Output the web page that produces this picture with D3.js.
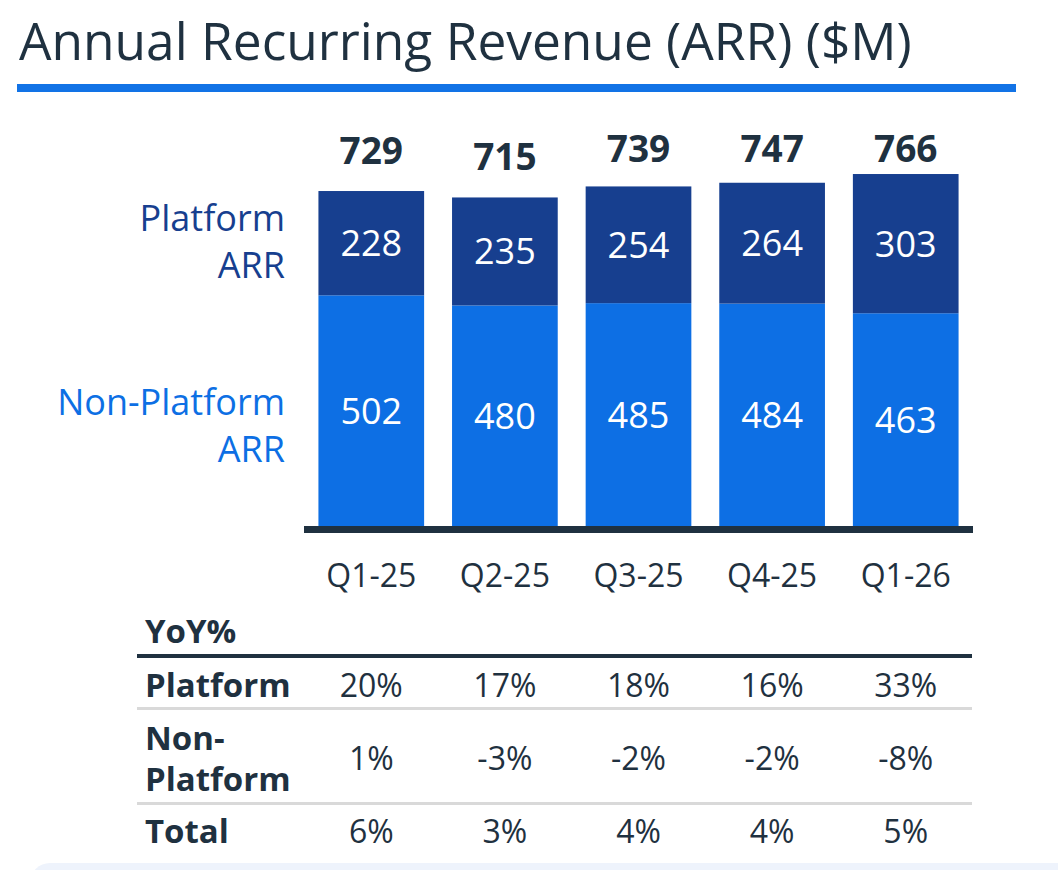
<!DOCTYPE html>
<html>
<head>
<meta charset="utf-8">
<script src="https://cdn.jsdelivr.net/npm/d3@7"></script>
<style>
  html, body { margin: 0; padding: 0; background: #ffffff; }
  svg { display: block; }
  text { font-family: "Open Sans", "Noto Sans", sans-serif; }
</style>
</head>
<body>
<script>
// ---- Data ----
const categories = ["Q1-25", "Q2-25", "Q3-25", "Q4-25", "Q1-26"];
const platformARR = [228, 235, 254, 264, 303];
const nonPlatformARR = [502, 480, 485, 484, 463];
const totalARR = [729, 715, 739, 747, 766];
const yoyRowLabels = [["Platform"], ["Non-", "Platform"], ["Total"]];
const yoyPlatform = ["20%", "17%", "18%", "16%", "33%"];
const yoyNonPlatform = ["1%", "-3%", "-2%", "-2%", "-8%"];
const yoyTotal = ["6%", "3%", "4%", "4%", "5%"];
const titleText = "Annual Recurring Revenue (ARR) ($M)";

// ---- Styles ----
const W = 1058, H = 870;
const dark = "#1f3140";
const platColor = "#173f8f";
const nonColor = "#0d6fe4";

const svg = d3.select("body").append("svg").attr("width", W).attr("height", H);

// Bottom light panel
svg.append("rect").attr("x", 30).attr("y", 863).attr("width", 1100).attr("height", 40)
  .attr("rx", 20).attr("fill", "#eef3fc");

// Title
const title = svg.append("text").attr("x", 19).attr("y", 60)
  .attr("fill", dark).attr("font-size", 46).attr("font-weight", 500).text(titleText);
const tw = title.node().getComputedTextLength();
title.attr("font-size", 46 * 893 / tw);

svg.append("rect").attr("x", 17).attr("y", 84).attr("width", 999).attr("height", 8)
  .attr("fill", "#1273e6");

// Scales
const x = d3.scaleBand().domain(categories).range([304, 973])
  .paddingInner(0.209).paddingOuter(0.108);
const y = d3.scaleLinear().domain([0, 800]).range([526, 526 - 800 * 0.4595]);

const data = categories.map((c, i) => ({
  c, p: platformARR[i], n: nonPlatformARR[i], t: totalARR[i]
}));

const g = svg.append("g");
// Non-platform segments
g.selectAll("rect.non").data(data).join("rect").attr("class", "non")
  .attr("x", d => x(d.c)).attr("width", x.bandwidth())
  .attr("y", d => y(d.n)).attr("height", d => y(0) - y(d.n))
  .attr("fill", nonColor);
// Platform segments (top = total)
g.selectAll("rect.plat").data(data).join("rect").attr("class", "plat")
  .attr("x", d => x(d.c)).attr("width", x.bandwidth())
  .attr("y", d => y(d.t)).attr("height", d => y(d.n) - y(d.t))
  .attr("fill", platColor);

// Segment labels
g.selectAll("text.plabel").data(data).join("text")
  .attr("x", d => x(d.c) + x.bandwidth() / 2)
  .attr("y", d => (y(d.t) + y(d.n)) / 2)
  .attr("dy", "0.36em").attr("text-anchor", "middle")
  .attr("font-size", 36).attr("fill", "#ffffff").text(d => d.p);
g.selectAll("text.nlabel").data(data).join("text")
  .attr("x", d => x(d.c) + x.bandwidth() / 2)
  .attr("y", d => (y(d.n) + y(0)) / 2)
  .attr("dy", "0.36em").attr("text-anchor", "middle")
  .attr("font-size", 36).attr("fill", "#ffffff").text(d => d.n);
// Totals (kept on a common line unless the bar is lower)
g.selectAll("text.tlabel").data(data).join("text")
  .attr("x", d => x(d.c) + x.bandwidth() / 2)
  .attr("y", d => Math.max(y(d.t) - 27, 162))
  .attr("text-anchor", "middle").attr("font-weight", 700)
  .attr("font-size", 37).attr("fill", dark).text(d => d.t);

// Baseline axis
const axis = svg.append("g").attr("transform", `translate(0,${y(0)})`)
  .call(d3.axisBottom(x).tickSize(0).tickPadding(0));
axis.select(".domain").remove();
svg.append("rect").attr("x", 304).attr("y", y(0)).attr("width", 669).attr("height", 7)
  .attr("fill", dark);
axis.selectAll(".tick text").attr("y", 61).attr("dy", 0)
  .attr("font-size", 32).attr("fill", dark)
  .attr("font-family", "'Open Sans', sans-serif");

// Legend labels (two-line texts)
const legend = [
  { lines: ["Platform", "ARR"], color: platColor, base: 231 },
  { lines: ["Non-Platform", "ARR"], color: nonColor, base: 415 }
];
legend.forEach(l => {
  const t = svg.append("text").attr("text-anchor", "end")
    .attr("font-size", 36).attr("fill", l.color);
  l.lines.forEach((s, j) => {
    t.append("tspan").attr("x", 285).attr("y", l.base + j * 47).text(s);
  });
});

// YoY table
svg.append("text").attr("x", 145).attr("y", 643).attr("font-weight", 700)
  .attr("font-size", 33).attr("fill", dark).text("YoY%");
svg.append("rect").attr("x", 137).attr("y", 654).attr("width", 835).attr("height", 4).attr("fill", dark);
svg.append("rect").attr("x", 137).attr("y", 707).attr("width", 835).attr("height", 3).attr("fill", "#d9d9d9");
svg.append("rect").attr("x", 137).attr("y", 802).attr("width", 835).attr("height", 3).attr("fill", "#d9d9d9");

const rows = [
  { label: yoyRowLabels[0], labelBase: [697], vals: yoyPlatform, valBase: 697 },
  { label: yoyRowLabels[1], labelBase: [750, 791], vals: yoyNonPlatform, valBase: 770 },
  { label: yoyRowLabels[2], labelBase: [843], vals: yoyTotal, valBase: 843 }
];
rows.forEach(r => {
  const t = svg.append("text").attr("font-weight", 700)
    .attr("font-size", 33).attr("fill", dark);
  r.label.forEach((s, j) => {
    t.append("tspan").attr("x", 145).attr("y", r.labelBase[j]).text(s);
  });
  svg.append("g").selectAll("text").data(r.vals).join("text")
    .attr("x", (d, i) => x(categories[i]) + x.bandwidth() / 2)
    .attr("y", r.valBase).attr("text-anchor", "middle")
    .attr("font-size", 32).attr("fill", dark).text(d => d);
});
</script>
</body>
</html>
